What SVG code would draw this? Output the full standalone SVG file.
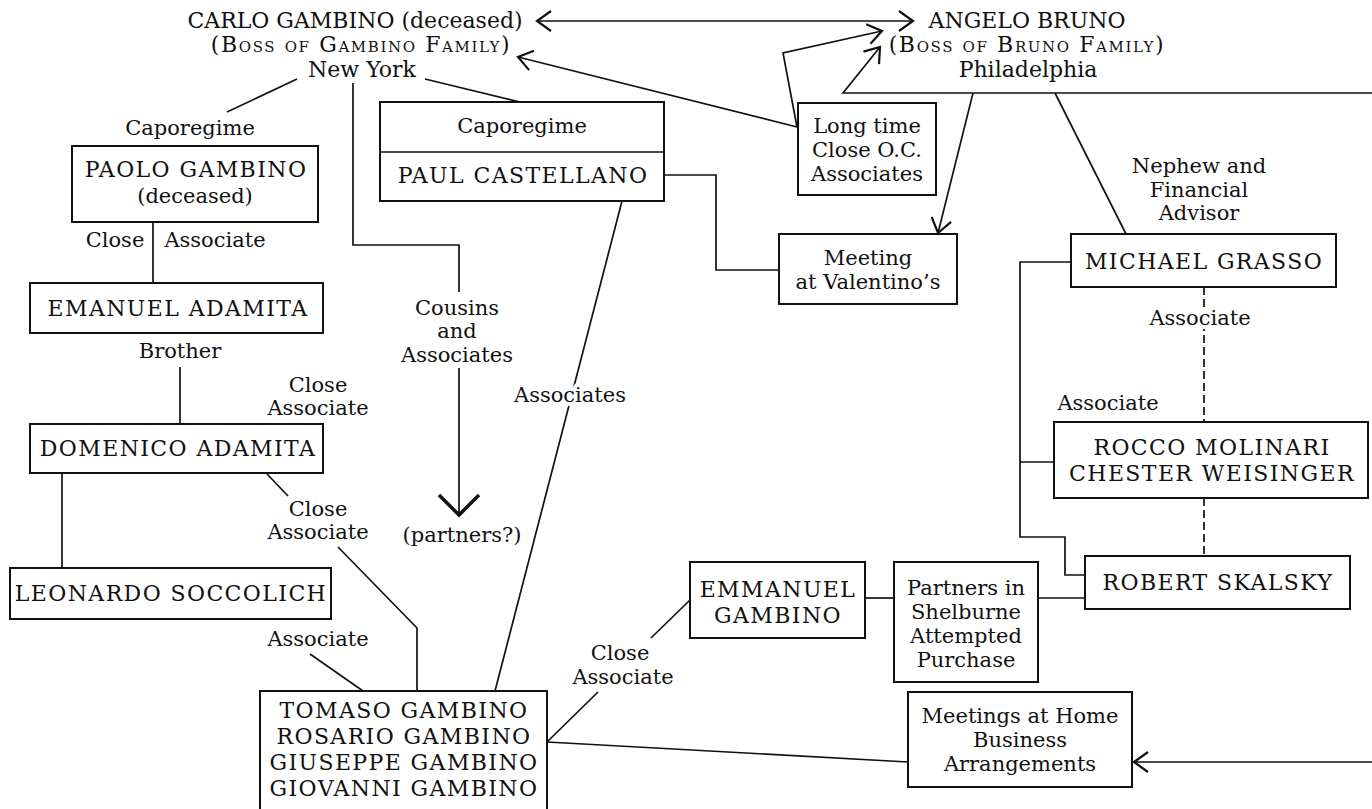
<svg xmlns="http://www.w3.org/2000/svg" width="1372" height="809" viewBox="0 0 1372 809">
<style>
text{font-family:"DejaVu Serif","Liberation Serif",serif;fill:#111;text-anchor:middle}
.hd{font-size:22px}
.sc{font-size:22px;font-variant:small-caps;letter-spacing:1.6px}
.nm{font-size:22px;letter-spacing:1.4px}
.lb{font-size:21px}
.halo{paint-order:stroke;stroke:#fff;stroke-width:8px;stroke-linejoin:round}
.box{fill:#fff;stroke:#111;stroke-width:2}
.ln{fill:none;stroke:#111;stroke-width:1.7}
.dash{fill:none;stroke:#111;stroke-width:1.7;stroke-dasharray:8 4}
</style>
<defs>
<marker id="chev" viewBox="0 0 20 24" markerWidth="20" markerHeight="24" refX="17" refY="12" orient="auto" markerUnits="userSpaceOnUse"><path d="M3,2 L17,12 L3,22" fill="none" stroke="#111" stroke-width="2.2"/></marker>
<marker id="chevS" viewBox="0 0 20 24" markerWidth="20" markerHeight="24" refX="17" refY="12" orient="auto-start-reverse" markerUnits="userSpaceOnUse"><path d="M3,2 L17,12 L3,22" fill="none" stroke="#111" stroke-width="2.2"/></marker>
<marker id="chevBig" viewBox="0 0 26 44" markerWidth="26" markerHeight="44" refX="22" refY="22" orient="auto" markerUnits="userSpaceOnUse"><path d="M2,2 L22,22 L2,42" fill="none" stroke="#111" stroke-width="3.5"/></marker>
</defs>

<g id="connectors">
<path class="ln" d="M537,21 L913,21" marker-start="url(#chevS)" marker-end="url(#chevS)"/>
<path class="ln" d="M797,127 L518,57" marker-end="url(#chev)"/>
<path class="ln" d="M797,127 L783,53 L882,31" marker-end="url(#chev)"/>
<path class="ln" d="M1372,93 L843,93 L880,47" marker-end="url(#chev)"/>
<path class="ln" d="M973,93 L938,233" marker-end="url(#chev)"/>
<path class="ln" d="M1372,762 L1134,762" marker-end="url(#chev)"/>
<path class="ln" d="M459,368 L459,515" marker-end="url(#chevBig)"/>
<path class="ln" d="M297,79 L227,112"/>
<path class="ln" d="M353,83 L353,245 L459,245 L459,292"/>
<path class="ln" d="M425,79 L520,102"/>
<path class="ln" d="M664,175 L716,175 L716,270 L779,270"/>
<path class="ln" d="M622,201 L495,691"/>
<path class="ln" d="M153,222 L153,283"/>
<path class="ln" d="M180,367 L180,424"/>
<path class="ln" d="M62,473 L62,568"/>
<path class="ln" d="M267,474 L288,496"/>
<path class="ln" d="M338,547 L417,628 L417,691"/>
<path class="ln" d="M310,654 L363,691"/>
<path class="ln" d="M547,742 L598,692"/>
<path class="ln" d="M651,638 L690,600"/>
<path class="ln" d="M547,742 L908,762"/>
<path class="ln" d="M1055,93 L1126,234"/>
<path class="ln" d="M1071,262 L1020,262 L1020,537 L1065,537 L1065,575 L1085,575"/>
<path class="ln" d="M1020,462 L1054,462"/>
<path class="ln" d="M866,598 L894,598"/>
<path class="ln" d="M1038,598 L1085,598"/>
<path class="dash" d="M1204,287 L1204,422"/>
<path class="dash" d="M1204,498 L1204,556"/>
</g>

<g id="labels">
<text class="lb halo" x="570" y="402">Associates</text>
<text class="lb halo" x="1200" y="325">Associate</text>
<text class="lb" x="457" y="315">Cousins</text>
<text class="lb" x="457" y="338">and</text>
<text class="lb" x="457" y="362">Associates</text>
<text class="lb" x="462" y="542">(partners?)</text>
<text class="lb" x="190" y="135">Caporegime</text>
<text class="lb" x="115" y="247">Close</text>
<text class="lb" x="215" y="247">Associate</text>
<text class="lb" x="180" y="358">Brother</text>
<text class="lb" x="318" y="392">Close</text>
<text class="lb" x="318" y="415">Associate</text>
<text class="lb" x="318" y="516">Close</text>
<text class="lb" x="318" y="539">Associate</text>
<text class="lb" x="318" y="646">Associate</text>
<text class="lb" x="620" y="660">Close</text>
<text class="lb" x="623" y="684">Associate</text>
<text class="lb" x="1199" y="173">Nephew and</text>
<text class="lb" x="1199" y="197">Financial</text>
<text class="lb" x="1199" y="220">Advisor</text>
<text class="lb" x="1108" y="410">Associate</text>
</g>

<g id="carlo">
<text class="hd" x="355" y="28">CARLO GAMBINO (deceased)</text>
<text class="sc" x="361" y="52">(Boss of Gambino Family)</text>
<text class="hd" x="362" y="77">New York</text>
</g>

<g id="angelo">
<text class="hd" x="1027" y="28">ANGELO BRUNO</text>
<text class="sc" x="1027" y="52">(Boss of Bruno Family)</text>
<text class="hd" x="1028" y="77">Philadelphia</text>
</g>

<g id="paolo">
<rect class="box" x="72" y="146" width="246" height="76"/>
<text class="nm" x="196" y="177">PAOLO GAMBINO</text>
<text class="lb" x="195" y="203">(deceased)</text>
</g>

<g id="emanuel">
<rect class="box" x="30" y="283" width="293" height="50"/>
<text class="nm" x="178" y="316">EMANUEL ADAMITA</text>
</g>

<g id="domenico">
<rect class="box" x="30" y="424" width="293" height="49"/>
<text class="nm" x="178" y="456">DOMENICO ADAMITA</text>
</g>

<g id="leonardo">
<rect class="box" x="10" y="568" width="321" height="51"/>
<text class="nm" x="171" y="601">LEONARDO SOCCOLICH</text>
</g>

<g id="castellano">
<rect class="box" x="380" y="102" width="284" height="99"/>
<line class="ln" x1="380" y1="152" x2="664" y2="152"/>
<text class="lb" x="522" y="133">Caporegime</text>
<text class="nm" x="523" y="183">PAUL CASTELLANO</text>
</g>

<g id="longtime">
<rect class="box" x="798" y="103" width="138" height="92"/>
<text class="lb" x="867" y="133">Long time</text>
<text class="lb" x="867" y="157">Close O.C.</text>
<text class="lb" x="867" y="181">Associates</text>
</g>

<g id="valentinos">
<rect class="box" x="779" y="234" width="178" height="70"/>
<text class="lb" x="868" y="265">Meeting</text>
<text class="lb" x="868" y="289">at Valentino’s</text>
</g>

<g id="grasso">
<rect class="box" x="1071" y="234" width="265" height="53"/>
<text class="nm" x="1204" y="269">MICHAEL GRASSO</text>
</g>

<g id="rocco">
<rect class="box" x="1054" y="422" width="314" height="76"/>
<text class="nm" x="1212" y="455">ROCCO MOLINARI</text>
<text class="nm" x="1212" y="481">CHESTER WEISINGER</text>
</g>

<g id="skalsky">
<rect class="box" x="1085" y="556" width="265" height="53"/>
<text class="nm" x="1218" y="590">ROBERT SKALSKY</text>
</g>

<g id="emmanuel">
<rect class="box" x="690" y="562" width="175" height="76"/>
<text class="nm" x="778" y="597">EMMANUEL</text>
<text class="nm" x="778" y="623">GAMBINO</text>
</g>

<g id="partners">
<rect class="box" x="894" y="562" width="144" height="120"/>
<text class="lb" x="966" y="595">Partners in</text>
<text class="lb" x="966" y="619">Shelburne</text>
<text class="lb" x="966" y="643">Attempted</text>
<text class="lb" x="966" y="667">Purchase</text>
</g>

<g id="meetings">
<rect class="box" x="908" y="692" width="224" height="95"/>
<text class="lb" x="1020" y="723">Meetings at Home</text>
<text class="lb" x="1020" y="747">Business</text>
<text class="lb" x="1020" y="771">Arrangements</text>
</g>

<g id="tomaso">
<rect class="box" x="260" y="691" width="287" height="125"/>
<text class="nm" x="404" y="718">TOMASO GAMBINO</text>
<text class="nm" x="404" y="744">ROSARIO GAMBINO</text>
<text class="nm" x="404" y="770">GIUSEPPE GAMBINO</text>
<text class="nm" x="404" y="796">GIOVANNI GAMBINO</text>
</g>
</svg>
